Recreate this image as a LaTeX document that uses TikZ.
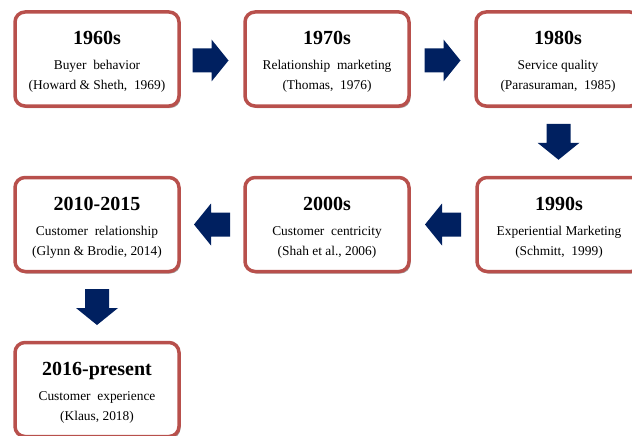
\documentclass[tikz,border=0pt]{standalone}
\usepackage{fontspec}
\setmainfont{Liberation Serif}
\usetikzlibrary{shadows,calc}
\definecolor{boxred}{RGB}{184,80,76}
\definecolor{navyarrow}{RGB}{0,32,96}
\tikzset{
  yearbox/.style={draw=boxred, line width=3.5pt, rounded corners=10pt, fill=white,
    minimum width=164pt, minimum height=94pt, inner sep=0pt,
    drop shadow={shadow xshift=1.5pt, shadow yshift=-2pt, opacity=0.35, fill=black}},
  titletext/.style={font=\fontsize{20}{22}\selectfont\bfseries, inner sep=0pt, anchor=base},
  bodytext/.style={font=\fontsize{13.4}{15}\selectfont, inner sep=0pt, anchor=base},
  pics/blockarrow/.style={code={
    \fill[navyarrow] (-18,-12) -- (1,-12) -- (1,-21) -- (18,0) -- (1,21) -- (1,12) -- (-18,12) -- cycle;}}
}
\newcommand\yrbox[6]{%
  \node[yearbox] (#1) at (#2) {};
  \node[titletext] (#1t) at ($(#1.center)+(0,-14)$) {#3};
  \node[bodytext] (#1a) at ($(#1.center)+(0,10.5)$) {#4};
  \node[bodytext] (#1b) at ($(#1.center)+(0,30.8)$) {#5};
}
\begin{document}
\begin{tikzpicture}[x=1pt,y=-1pt]
\useasboundingbox (0,0) rectangle (632,436);
\clip (0,0) rectangle (632,436);
\yrbox{b1}{97,59}{1960s}{Buyer\ \ behavior}{(Howard \& Sheth,\ \ 1969)}{}
\yrbox{b2}{327,59}{1970s}{Relationship\ \ marketing}{(Thomas,\ \ 1976)}{}
\yrbox{b3}{558,59}{1980s}{Service quality}{(Parasuraman,\ \ 1985)}{}
\yrbox{b4}{559,224.5}{1990s}{Experiential Marketing}{(Schmitt,\ \ 1999)}{}
\yrbox{b5}{327,224.5}{2000s}{Customer\ \ centricity}{(Shah et al., 2006)}{}
\yrbox{b6}{97,224.5}{2010-2015}{Customer\ \ relationship}{(Glynn \& Brodie, 2014)}{}
\yrbox{b7}{97,389.5}{2016-present}{Customer\ \ experience}{(Klaus, 2018)}{}
\pic at ($(b1.east)!0.5!(b2.west)+(-1.5,1.5)$) {blockarrow};
\pic at ($(b2.east)!0.5!(b3.west)+(0,1.5)$) {blockarrow};
\pic[rotate=-90] at ($(b3.south)!0.5!(b4.north)$) {blockarrow};
\pic[rotate=180] at ($(b4.west)!0.5!(b5.east)$) {blockarrow};
\pic[rotate=180] at ($(b5.west)!0.5!(b6.east)$) {blockarrow};
\pic[rotate=-90] at ($(b6.south)!0.5!(b7.north)$) {blockarrow};
\end{tikzpicture}
\end{document}
